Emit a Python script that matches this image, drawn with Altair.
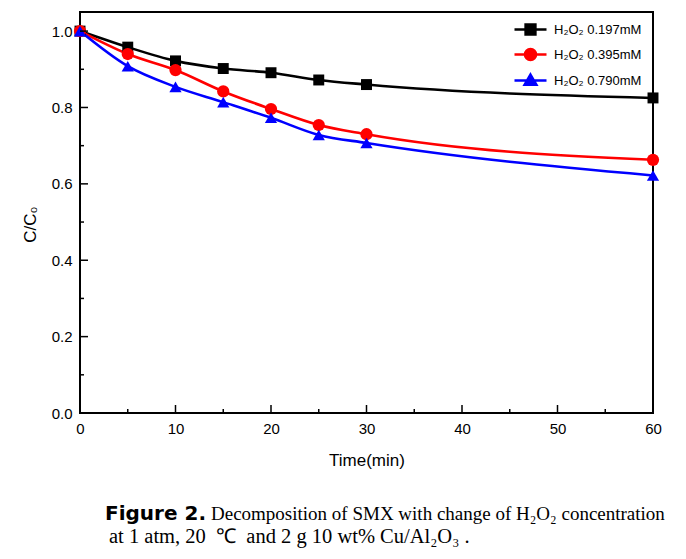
import altair as alt
import pandas as pd

time = [0, 5, 10, 15, 20, 25, 30, 60]
s1 = [1.0, 0.958, 0.922, 0.902, 0.891, 0.872, 0.860, 0.825]
s2 = [1.0, 0.940, 0.898, 0.842, 0.796, 0.754, 0.730, 0.663]
s3 = [1.0, 0.908, 0.854, 0.814, 0.773, 0.728, 0.707, 0.622]
names = ["H\u2082O\u2082 0.197mM", "H\u2082O\u2082 0.395mM", "H\u2082O\u2082 0.790mM"]
colors = ["#000000", "#ff0000", "#0000ff"]
shapes = ["square", "circle", "triangle-up"]
sizes = [120, 150, 150]

x_major = [0, 10, 20, 30, 40, 50, 60]
x_minor = [5, 15, 25, 35, 45, 55]
y_major = [0.0, 0.2, 0.4, 0.6, 0.8, 1.0]
y_minor = [0.1, 0.3, 0.5, 0.7, 0.9]

rows = []
for name, vals in zip(names, [s1, s2, s3]):
    for t, v in zip(time, vals):
        rows.append({"Time": t, "C": v, "series": name})
df = pd.DataFrame(rows)

W, H = 573, 401
xs = alt.Scale(domain=[0, 60], nice=False)
ys = alt.Scale(domain=[0, 1.05], nice=False)
cs = alt.Scale(domain=names, range=colors)

leg_paths = [
    "M-2,0H2M-0.62,-0.62H0.62V0.62H-0.62Z",
    "M-2,0H2M0.7,0A0.7,0.7,0,1,1,-0.7,0A0.7,0.7,0,1,1,0.7,0Z",
    "M-2,0H2M0,-0.75L0.75,0.55H-0.75Z",
]
sym_expr = (
    f"datum.value == '{names[0]}' ? '{leg_paths[0]}' : "
    f"(datum.value == '{names[1]}' ? '{leg_paths[1]}' : '{leg_paths[2]}')"
)

base = alt.Chart(df)

lines = base.mark_line(interpolate="monotone", strokeWidth=2.6).encode(
    x=alt.X("Time:Q", scale=xs,
            axis=alt.Axis(title="Time(min)", values=x_major, ticks=False, domain=False,
                          grid=False, labelPadding=8, titlePadding=16, labelFlush=False)),
    y=alt.Y("C:Q", scale=ys,
            axis=alt.Axis(title="C/C\u2080", values=y_major, format=".1f", ticks=False,
                          domain=False, grid=False, labelPadding=8, titlePadding=12,
                          labelFlush=False, titleY=212)),
    color=alt.Color("series:N", scale=cs, sort=names,
                    legend=alt.Legend(title=None, orient="none", legendX=441, legendY=8,
                                      symbolType=alt.ExprRef(expr=sym_expr),
                                      symbolSize=256, symbolStrokeWidth=2.4,
                                      labelFont="Liberation Sans", labelFontSize=13,
                                      labelOffset=14, rowPadding=4, labelLimit=200)),
)

point_layers = []
for name, shp, sz in zip(names, shapes, sizes):
    point_layers.append(
        base.transform_filter(alt.datum.series == name)
        .mark_point(filled=True, size=sz, opacity=1, shape=shp)
        .encode(x=alt.X("Time:Q", scale=xs), y=alt.Y("C:Q", scale=ys),
                color=alt.Color("series:N", scale=cs, legend=None))
    )

xmaj = alt.Chart(pd.DataFrame({"v": x_major[1:-1]})).mark_rule(color="black", strokeWidth=1.5).encode(
    x=alt.X("v:Q", scale=xs), y=alt.value(H), y2=alt.value(H - 8))
xmin = alt.Chart(pd.DataFrame({"v": x_minor})).mark_rule(color="black", strokeWidth=1.5).encode(
    x=alt.X("v:Q", scale=xs), y=alt.value(H), y2=alt.value(H - 4))
ymaj = alt.Chart(pd.DataFrame({"v": y_major[1:]})).mark_rule(color="black", strokeWidth=1.5).encode(
    y=alt.Y("v:Q", scale=ys), x=alt.value(0), x2=alt.value(8))
ymin = alt.Chart(pd.DataFrame({"v": y_minor})).mark_rule(color="black", strokeWidth=1.5).encode(
    y=alt.Y("v:Q", scale=ys), x=alt.value(0), x2=alt.value(4))

cap_bold = alt.Chart(pd.DataFrame({"t": ["Figure 2."]})).mark_text(
    align="left", baseline="alphabetic", font="DejaVu Sans", fontWeight="bold",
    fontSize=20, color="black").encode(text="t:N", x=alt.value(25), y=alt.value(508))
cap1 = alt.Chart(pd.DataFrame({"t": ["Decomposition of SMX with change of H\u2082O\u2082 concentration"]})).mark_text(
    align="left", baseline="alphabetic", font="Liberation Serif",
    fontSize=19, color="black").encode(text="t:N", x=alt.value(131), y=alt.value(508))
cap2 = alt.Chart(pd.DataFrame({"t": ["at 1 atm, 20\u00a0\u00a0\u2103\u00a0\u00a0and 2 g 10 wt% Cu/Al\u2082O\u2083 ."]})).mark_text(
    align="left", baseline="alphabetic", font="Liberation Serif",
    fontSize=20.5, color="black").encode(text="t:N", x=alt.value(29), y=alt.value(531))

chart = alt.layer(lines, *point_layers, xmaj, xmin, ymaj, ymin, cap_bold, cap1, cap2).properties(
    width=W, height=H,
    autosize=alt.AutoSizeParams(type="none"),
    padding={"left": 72, "top": 4, "right": 20, "bottom": 138},
).configure_view(stroke="black", strokeWidth=2).configure_axis(
    labelFont="Liberation Sans", labelFontSize=15, labelColor="black",
    titleFont="Liberation Sans", titleFontSize=17, titleFontWeight="normal", titleColor="black",
)

chart.save("out.html", embed_options={"renderer": "svg", "actions": False})
